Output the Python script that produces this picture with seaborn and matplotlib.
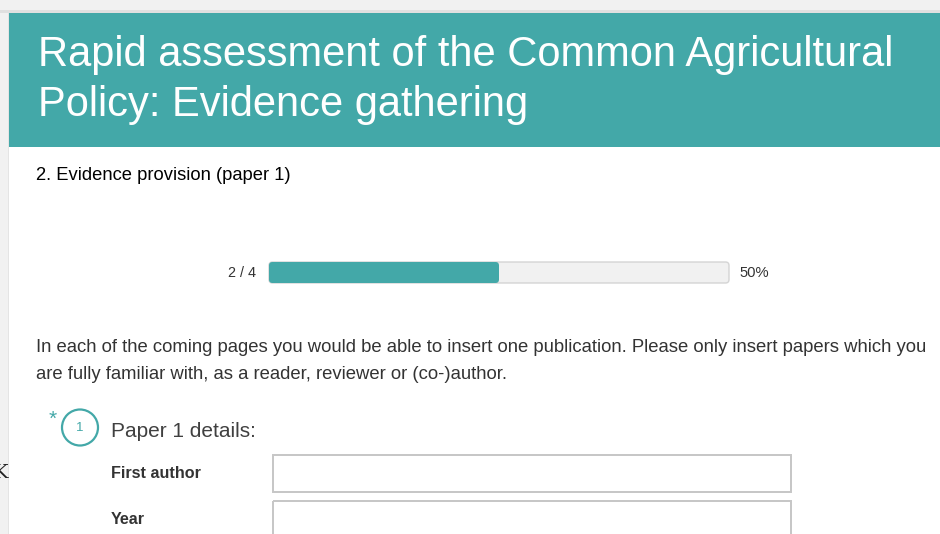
import matplotlib
matplotlib.use("Agg")
import matplotlib.pyplot as plt
import matplotlib.patches as mpatches
import seaborn as sns

# survey progress data
pages_done = 2
pages_total = 4
progress_label = f"{pages_done} / {pages_total}"
percent_label = f"{round(100 * pages_done / pages_total)}%"

title_lines = ["Rapid assessment of the Common Agricultural",
               "Policy: Evidence gathering"]
section_title = "2. Evidence provision (paper 1)"
intro_lines = ["In each of the coming pages you would be able to insert one publication. Please only insert papers which you",
               "are fully familiar with, as a reader, reviewer or (co-)author."]
question_number = "1"
question_text = "Paper 1 details:"
field_labels = ["First author", "Year"]

TEAL = "#43a8a8"
TEXT = "#333333"

sns.set_theme(style="white")
plt.rcParams["font.family"] = ["Liberation Sans", "DejaVu Sans"]

fig = plt.figure(figsize=(9.4, 5.34), dpi=100)
fig.patch.set_facecolor("#f1f1f1")

# page layer in pixel coordinates
page = fig.add_axes([0, 0, 1, 1])
page.set_xlim(0, 940)
page.set_ylim(534, 0)
page.axis("off")

page.add_patch(mpatches.Rectangle((0, 10), 940, 3, color="#e0e0e0", lw=0))
page.add_patch(mpatches.Rectangle((9, 13), 931, 534, color="white", lw=0))
page.add_patch(mpatches.Rectangle((8, 13), 1, 534, color="#e4e4e4", lw=0))
page.add_patch(mpatches.Rectangle((9, 13), 931, 134, color=TEAL, lw=0))

page.text(38, 66, title_lines[0], color="white", fontsize=30, va="baseline")
page.text(38, 116, title_lines[1], color="white", fontsize=30, va="baseline")

page.text(36, 180, section_title, color="black", fontsize=13.2, va="baseline")

page.text(256, 277, progress_label, color=TEXT, fontsize=10.4, ha="right", va="baseline")
page.text(739, 277, percent_label, color=TEXT, fontsize=10.6, ha="left", va="baseline")

page.text(36, 352, intro_lines[0], color=TEXT, fontsize=13.3, va="baseline")
page.text(36, 379, intro_lines[1], color=TEXT, fontsize=13.3, va="baseline")

# question header
page.add_patch(mpatches.Circle((80, 427.5), 18, fill=False, ec=TEAL, lw=1.6))
page.text(80, 428, question_number, color=TEAL, fontsize=9.5, ha="center", va="center")
page.text(53, 425, "*", color=TEAL, fontsize=15, ha="center", va="baseline")
page.text(111, 437, question_text, color="#404040", fontsize=15, va="baseline")

# form fields
field_baselines = [478, 524]
field_tops = [455, 501]
for label, base, top in zip(field_labels, field_baselines, field_tops):
    page.text(111, base, label, color=TEXT, fontsize=11.6, fontweight="bold", va="baseline")
    page.add_patch(mpatches.Rectangle((273, top), 518, 37, fill=False,
                                      ec="#c6c6c6", lw=1.4))

page.text(-6, 478, "K", color="#222222", fontsize=14, family="DejaVu Serif", va="baseline")

# progress bar drawn as a horizontal seaborn bar chart
bar_ax = fig.add_axes([269 / 940, (534 - 283) / 534, 460 / 940, 21 / 534])
sns.barplot(x=[pages_total], y=["progress"], color="#f1f1f1", width=1,
            edgecolor="#d4d4d4", linewidth=1, saturation=1, ax=bar_ax)
sns.barplot(x=[pages_done], y=["progress"], color=TEAL, width=1,
            saturation=1, linewidth=0, ax=bar_ax)
bar_ax.set_xlim(0, pages_total)
bar_ax.set_ylim(0.5, -0.5)
bar_ax.axis("off")

# rounded corners on the background bar, square right edge on the fill
aspect = (1 / 21) / (pages_total / 460)
radius = 3.5 * pages_total / 460
bars = list(bar_ax.patches)
for i, rect in enumerate(bars):
    x0, y0 = rect.get_x(), rect.get_y()
    w, h = rect.get_width(), rect.get_height()
    rounded = mpatches.FancyBboxPatch(
        (x0, y0), w, h, boxstyle=f"round,pad=0,rounding_size={radius}",
        mutation_aspect=aspect, facecolor=rect.get_facecolor(),
        edgecolor=rect.get_edgecolor(), linewidth=rect.get_linewidth(),
        clip_on=False, zorder=rect.get_zorder())
    bar_ax.add_patch(rounded)
    if i == 0:
        rect.remove()
    else:
        # keep the seaborn rectangle for the square right end of the fill
        rect.set_x(x0 + w / 2)
        rect.set_width(w / 2)

fig.savefig("out.png", dpi=100, facecolor=fig.get_facecolor())
